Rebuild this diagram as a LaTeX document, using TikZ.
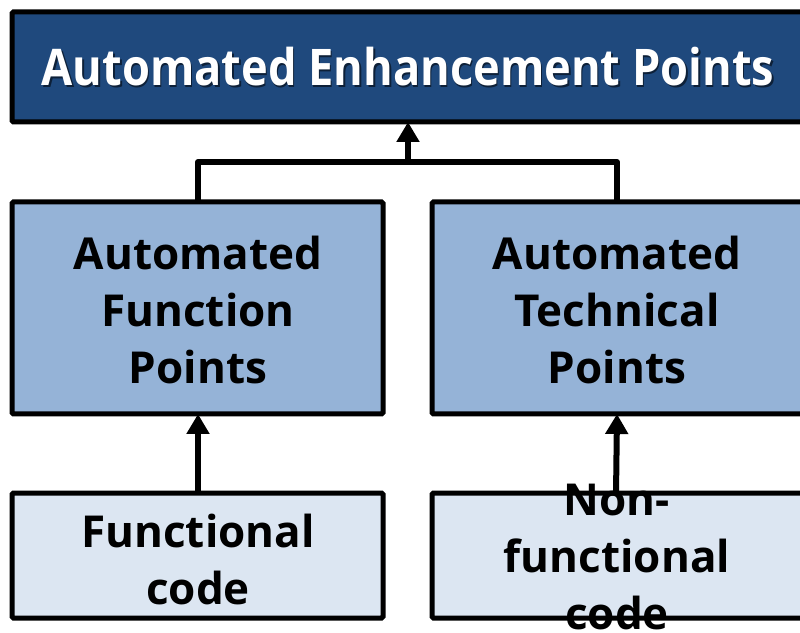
\documentclass[tikz,border=0pt]{standalone}
\usepackage{fontspec}
\setmainfont{Open Sans}[BoldFont={Open Sans Bold}]
\newfontfamily\titlefont{Open Sans Bold}[FakeStretch=0.895]
\usetikzlibrary{arrows.meta}
\definecolor{darkblue}{HTML}{1F497D}
\definecolor{midblue}{HTML}{95B3D7}
\definecolor{lightblue}{HTML}{DCE6F2}
\tikzset{
  boxA/.style={draw=black, line width=5pt, fill=darkblue, rounded corners=1.5pt},
  boxB/.style={draw=black, line width=5pt, fill=midblue, rounded corners=1.5pt},
  boxC/.style={draw=black, line width=5pt, fill=lightblue, rounded corners=1.5pt},
  lbl/.style={font=\fontsize{44}{57}\selectfont\bfseries, align=center, text=black},
  conn/.style={line width=6pt, -{Triangle[length=20pt,width=22pt]}},
}
\begin{document}
\begin{tikzpicture}[x=1pt,y=1pt]
\useasboundingbox (0,0) rectangle (800,632);
\clip (0,0) rectangle (800,632);
% boxes (y up: y = 632 - ypx)
\draw[boxA] (12,510) rectangle (830,620);
\coordinate (topb) at (408,510);
\draw[boxB] (12,218) rectangle (383,430);
\draw[boxB] (432,218) rectangle (830,430);
\draw[boxC] (12,14) rectangle (383,139);
\draw[boxC] (432,14) rectangle (830,139);
\coordinate (fpTop) at (198,430);
\coordinate (tpTop) at (617,430);
\coordinate (fpBot) at (198,218);
\coordinate (tpBot) at (617,218);
\coordinate (fcTop) at (198,139);
\coordinate (nfTop) at (616,137);
\coordinate (junction) at (408,470);
% title
\node[text=black, opacity=0.55, font=\fontsize{50.5}{57}\titlefont] (titleshadow) at (409.5,563.5) {Automated Enhancement Points};
\node[text=white, font=\fontsize{50.5}{57}\titlefont] (title) at (408,565) {Automated Enhancement Points};
% labels
\node[lbl] (fp) at (198,322) {Automated\\Function\\Points};
\node[lbl] (tp) at (617,322) {Automated\\Technical\\Points};
\node[lbl] (fc) at (198,73) {Functional\\code};
\node[lbl] (nfc) at (617,75) {Non-\\functional\\code};
% connectors
\draw[line width=6pt, line join=round] (fpTop) |- (junction) -| (tpTop);
\draw[conn] (junction) -- (topb);
\draw[conn] (fcTop) -- (fpBot);
\draw[conn] (nfTop) -- (tpBot);
\end{tikzpicture}
\end{document}
